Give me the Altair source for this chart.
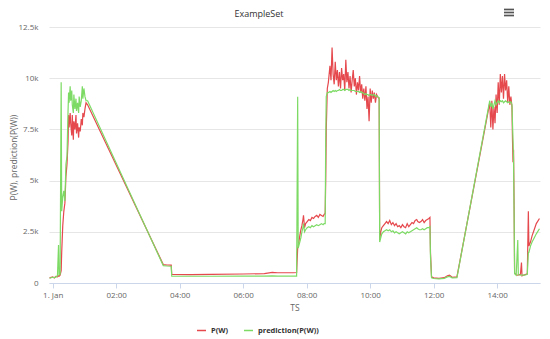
import altair as alt
import pandas as pd

chart_title = "ExampleSet"
series_names = ["P(W)", "prediction(P(W))"]
series_colors = ["#e5484d", "#7ddb65"]
y_ticks = [0, 2500, 5000, 7500, 10000, 12500]
x_tick_hours = [0, 2, 4, 6, 8, 10, 12, 14]

# minutes after 1 Jan 00:00
ts_min = [
    -6, 0, 3, 6, 9, 11, 12, 14, 16, 17, 19, 21, 23, 25, 27, 29, 30, 31, 33, 34, 36, 37, 39, 40,
    42, 44, 45, 47, 49, 50, 52, 54, 56, 57, 59, 61, 63, 66,
    209, 216, 224, 225, 260, 300, 360, 400, 415, 425, 455, 461,
    463, 464, 467, 469, 471, 473, 474, 476, 478, 481, 484, 487, 490, 493, 496, 499, 502, 505,
    508, 511, 513, 515, 516, 517, 519,
    521, 524, 526, 528, 530, 532, 534, 536, 538, 540, 542, 544, 546, 548, 550, 552, 554, 556,
    558, 560, 562, 564, 566, 568, 570, 572, 574, 576, 578, 580, 582, 584, 586, 588, 590, 592,
    594, 596, 598, 600, 602, 604, 606, 608, 610, 612, 614, 617,
    618, 620, 622, 625, 628, 631, 634, 637, 640, 643, 646, 649, 652, 655, 658, 661, 664, 667,
    670, 673, 676, 679, 682, 685, 688, 690, 693, 696, 699, 702, 705, 708, 711, 713,
    714, 716, 720, 730, 740, 746, 750, 755, 764,
    826, 828, 830, 832, 834, 836, 838, 840, 842, 844, 846, 848, 850, 852, 854, 856, 858, 860,
    862, 864, 866, 868, 869, 870, 871, 872, 873, 876, 879, 880, 884, 886, 887, 892, 897,
    899, 900, 903, 906, 910, 914, 920,
]

p_w = [
    250, 300, 250, 320, 300, 350, 330, 380, 600, 1500, 2800, 3500, 3900, 5200, 5800, 6900, 8200, 7600, 8300, 7800, 7200, 8200, 7000, 7900,
    7500, 8200, 7300, 7800, 7100, 7600, 7400, 8000, 7700, 8300, 8100, 8500, 8800, 8700,
    900, 880, 870, 420, 410, 420, 440, 460, 520, 500, 500, 510,
    1700, 1800, 2300, 2600, 2800, 3100, 3300, 2700, 2900, 3000, 3100, 3050, 3200, 3150, 3250, 3300, 3200, 3350,
    3300, 3250, 3350, 3400, 5000, 7500, 9500,
    9800, 10600, 9900, 11500, 10200, 9700, 10800, 9900, 10400, 9600, 10300, 9500, 10500, 9900, 10200, 9400, 10900, 9800,
    10300, 9500, 10100, 9300, 9900, 10400, 9600, 10000, 9200, 9800, 9400, 10100, 9300, 9700, 9000, 9500, 8900, 9600,
    8500, 9100, 7900, 9500, 8800, 9400, 9000, 9300, 8800, 9200, 9100, 9000,
    2100, 2500, 2700, 2800, 2900, 3000, 2900, 3050, 2850, 2950, 2800, 2900, 2750, 2800, 2700, 2850, 2750, 2700,
    2900, 2750, 2850, 2950, 2900, 3050, 3100, 3000, 2950, 3000, 3100, 2950, 3050, 3100, 3150, 3200,
    1500, 300, 250, 230, 260, 350, 380, 280, 300,
    8800, 7600, 8900, 7500, 8600, 7800, 9200, 8300, 9800, 8700, 10200, 9300, 10100, 9000, 10200, 9400, 9900, 8800,
    9600, 8700, 9100, 8600, 7000, 5900, 6500, 4000, 500, 400, 380, 390, 420, 1000, 350, 400, 450,
    3500, 1800, 2000, 2300, 2600, 2900, 3150,
]

pred_pw = [
    230, 280, 260, 300, 350, 1850, 400, 420, 9800, 3500, 4200, 4500, 4000, 5800, 6200, 8400, 9300, 8800, 9600, 8900, 9400, 8700, 8300, 9200,
    8500, 9000, 8400, 8800, 8300, 9100, 8600, 8900, 9600, 9000, 9500, 9100, 8900, 8900,
    850, 830, 820, 330, 330, 330, 340, 340, 350, 340, 340, 340,
    9100, 1700, 2000, 2200, 2500, 2700, 2900, 2500, 2600, 2700, 2750, 2700, 2800, 2750, 2800, 2850, 2800, 2850,
    2900, 2850, 2900, 2900, 7000, 9100, 9300,
    9300, 9350, 9300, 9350, 9400, 9350, 9400, 9350, 9400, 9400, 9450, 9400, 9400, 9450, 9450, 9400, 9450, 9450,
    9450, 9400, 9450, 9400, 9400, 9400, 9400, 9350, 9350, 9350, 9350, 9300, 9350, 9300, 9300, 9250, 9200, 9250,
    9200, 9200, 9150, 9200, 9200, 9150, 9200, 9200, 9100, 9150, 9100, 9050,
    2000, 2200, 2400, 2500, 2550, 2600, 2550, 2600, 2500, 2550, 2450, 2500, 2450, 2400, 2450, 2500, 2450, 2400,
    2500, 2450, 2500, 2550, 2600, 2650, 2700, 2650, 2600, 2600, 2650, 2600, 2650, 2700, 2700, 2750,
    1300, 250, 220, 200, 230, 300, 320, 250, 260,
    8900, 8600, 8800, 8500, 8700, 8900, 8700, 8800, 8900, 8800, 8900, 8850, 8900, 8800, 8850, 8900, 8850, 8800,
    8850, 8800, 8850, 8700, 7800, 7000, 6000, 3500, 450, 380, 2100, 400, 380, 400, 380, 380, 420,
    1500, 1500, 1800, 2000, 2200, 2400, 2650,
]

base_time = pd.Timestamp("2017-01-01 00:00:00")
ts = [(base_time + pd.Timedelta(minutes=m)).strftime("%Y-%m-%dT%H:%M:%S") for m in ts_min]
df = pd.DataFrame({
    "TS": ts * 2,
    "value": p_w + pred_pw,
    "series": [series_names[0]] * len(ts) + [series_names[1]] * len(ts),
})

FONT = "Open Sans"

x_enc = alt.X(
    "TS:T",
    title="TS",
    scale=alt.Scale(
        domain=[
            alt.DateTime(year=2016, month=12, date=31, hours=23, minutes=53),
            alt.DateTime(year=2017, month=1, date=1, hours=15, minutes=21),
        ],
        nice=False,
    ),
    axis=alt.Axis(
        values=[alt.DateTime(year=2017, month=1, date=1, hours=h) for h in x_tick_hours],
        labelExpr="hours(datum.value) == 0 ? '1. Jan' : timeFormat(datum.value, '%H:%M')",
        grid=False,
        domainColor="#ccd6eb",
        tickColor="#ccd6eb",
        tickSize=5,
        labelPadding=3,
        labelFont=FONT,
        labelFontSize=8,
        labelColor="#666666",
        labelFlush=False,
        titleFont=FONT,
        titleFontSize=8.5,
        titleFontWeight="normal",
        titleColor="#666666",
        titleY=24,
        titleBaseline="middle",
    ),
)

y_enc = alt.Y(
    "value:Q",
    title="P(W), prediction(P(W))",
    scale=alt.Scale(domain=[0, 12500], nice=False),
    axis=alt.Axis(
        values=y_ticks,
        labelExpr="datum.value == 0 ? '0' : format(datum.value / 1000, '.1~f') + 'k'",
        grid=True,
        gridColor="#e6e6e6",
        domain=False,
        ticks=False,
        tickSize=0,
        labelPadding=11,
        labelFont=FONT,
        labelFontSize=8,
        labelColor="#666666",
        titleFont=FONT,
        titleFontSize=8.5,
        titleFontWeight="normal",
        titleColor="#666666",
        titleAngle=270,
        titleAlign="center",
        titleBaseline="middle",
        titleX=-35.5,
        titleY=130,
    ),
)

color_enc = alt.Color(
    "series:N",
    scale=alt.Scale(domain=series_names, range=series_colors),
    legend=alt.Legend(
        title=None,
        orient="none",
        legendX=147,
        legendY=298,
        direction="horizontal",
        symbolType="stroke",
        symbolSize=81,
        symbolStrokeWidth=1.5,
        labelFont=FONT,
        labelFontSize=7.5,
        labelFontWeight="bold",
        labelColor="#333333",
        columnPadding=12,
        labelOffset=4,
    ),
)

base = alt.Chart(df).encode(x=x_enc, y=y_enc, color=color_enc)
red_line = base.transform_filter(alt.datum.series == series_names[0]).mark_line(strokeWidth=1.2)
green_line = base.transform_filter(alt.datum.series == series_names[1]).mark_line(strokeWidth=1.2)

title_text = alt.Chart(pd.DataFrame({"label": [chart_title]})).mark_text(
    font=FONT, fontSize=9, color="#333333", align="center", baseline="middle"
).encode(x=alt.value(210), y=alt.value(-13), text="label:N")

menu_df = pd.DataFrame({"k": [0]})
menu_lines = [
    alt.Chart(menu_df).mark_rule(color="#555555", strokeWidth=1.7).encode(
        x=alt.value(455), x2=alt.value(465), y=alt.value(yy)
    )
    for yy in (-17.5, -14.5, -11.5)
]

chart = alt.layer(red_line, green_line, title_text, *menu_lines).properties(
    width=491,
    height=256,
    autosize=alt.AutoSizeParams(type="none"),
    padding={"left": 41, "top": 19, "right": 2, "bottom": 56},
).configure_view(stroke=None)

chart.save("out.html", embed_options={"renderer": "svg", "actions": False})
